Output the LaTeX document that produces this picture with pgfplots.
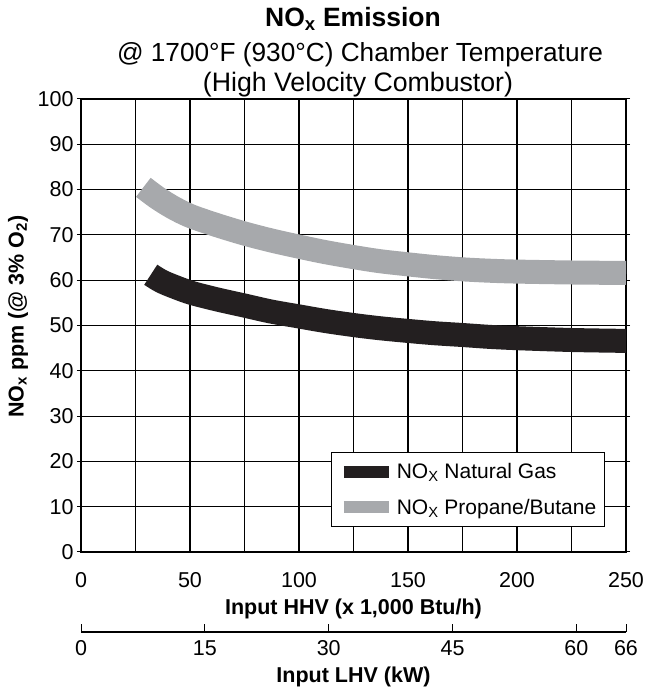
\documentclass[border=0pt]{standalone}
\usepackage{fontspec}
\setmainfont{Liberation Sans}
\usepackage{pgfplots}
\pgfplotsset{compat=1.18}
\definecolor{ngas}{HTML}{231F20}
\definecolor{prop}{HTML}{A7A9AC}

\begin{document}
\begin{tikzpicture}
\useasboundingbox (-81pt,-140pt) rectangle (572pt,552pt);

% titles
\node[anchor=base, font=\fontsize{26.5}{30}\selectfont\bfseries] at (272pt,525pt) {NO\textsubscript{x} Emission};
\node[anchor=base, font=\fontsize{26.2}{30}\selectfont] at (279pt,490pt) {@ 1700°F (930°C) Chamber Temperature};
\node[anchor=base, font=\fontsize{26.7}{30}\selectfont] at (277pt,460pt) {(High Velocity Combustor)};

\begin{axis}[
  name=main, at={(0,0)}, anchor=south west,
  scale only axis, width=545pt, height=453pt,
  xmin=0, xmax=250, ymin=0, ymax=100,
  xtick={0,50,...,250}, minor xtick={25,75,...,225},
  ytick={0,10,...,100},
  grid=both,
  major grid style={black, line width=1.1pt},
  minor grid style={black, line width=1.1pt},
  axis line style={line width=2.4pt},
  tick align=outside, major tick length=4pt, minor tick length=0pt,
  xtick style={draw=none}, ytick style={black, line width=1pt},
  /pgf/number format/assume math mode=true,
  ticklabel style={font=\fontsize{21.5}{24}\selectfont},
  xticklabel style={anchor=center, yshift=-24pt},
  xlabel={\textbf{Input HHV (x 1,000 Btu/h)}},
  xlabel style={at={(0.5,0)}, anchor=center, yshift=-57pt, font=\fontsize{21.5}{24}\selectfont},
  ylabel={\textbf{NO\textsubscript{x} ppm (@ 3\% O\textsubscript{2})}},
  ylabel style={at={(0,0.52)}, anchor=center, yshift=63pt, font=\fontsize{21.5}{24}\selectfont},
  legend style={at={(0.961,0.055)}, anchor=south east, draw=black, line width=1pt,
    font=\fontsize{21}{24}\selectfont, inner xsep=6pt, inner ysep=9pt, row sep=15pt,
    nodes={inner sep=2pt}},
  legend cell align=left,
  legend image code/.code={\draw[#1, line width=12pt] (0pt,0pt) -- (45pt,0pt);},
]
\addplot[ngas, line width=24pt, smooth] coordinates {
  (32,61.2) (36,60.0) (40,59.1) (50,57.3) (62,55.8) (75,54.4) (87,53.1)
  (100,52.0) (112,51.0) (125,50.1) (137,49.4) (150,48.8) (162,48.3)
  (175,47.9) (187,47.5) (200,47.2) (225,46.8) (250,46.6)};
\addlegendentry{NO\textsubscript{X} Natural Gas}
\addplot[prop, line width=24pt, smooth] coordinates {
  (28.6,80.5) (35,78.2) (42,76.1) (50,74.2) (62,72.2) (75,70.3) (87,68.8)
  (100,67.4) (112,66.2) (125,65.1) (137,64.2) (150,63.5) (162,62.9)
  (175,62.4) (187,62.1) (200,61.9) (225,61.7) (250,61.6)};
\addlegendentry{NO\textsubscript{X} Propane/Butane}
\end{axis}

\begin{axis}[
  at={(0,-80pt)}, anchor=south west,
  scale only axis, width=545pt, height=10pt,
  xmin=0, xmax=66, ymin=0, ymax=1,
  axis x line=bottom, axis y line=none,
  axis line style={-, line width=1.1pt},
  xtick={0,15,30,45,60,66},
  tick align=inside, major tick length=8pt,
  xtick style={black, line width=1pt},
  /pgf/number format/assume math mode=true,
  ticklabel style={font=\fontsize{21.5}{24}\selectfont},
  xticklabel style={anchor=center, yshift=-16pt},
  xlabel={\textbf{Input LHV (kW)}},
  xlabel style={at={(0.5,0)}, anchor=center, yshift=-45pt, font=\fontsize{21.5}{24}\selectfont},
]
\addplot[draw=none] coordinates {(0,0) (66,1)};
\end{axis}
\end{tikzpicture}
\end{document}
